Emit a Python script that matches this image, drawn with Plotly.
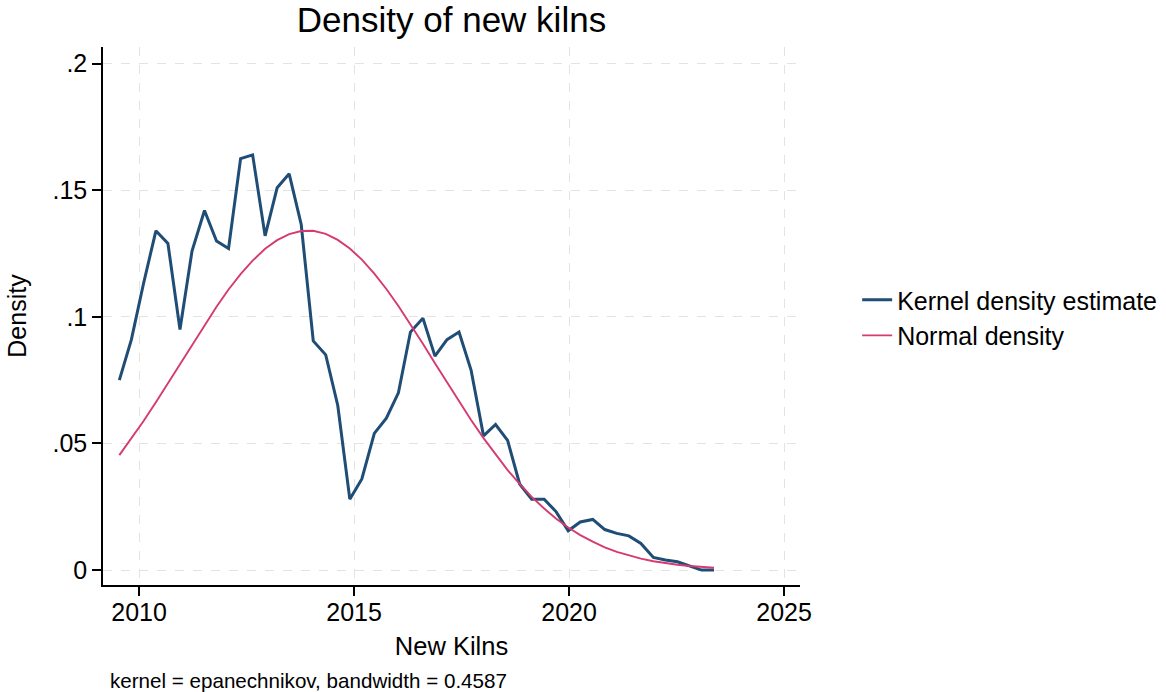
import plotly.graph_objects as go

# ---- data ----
grid_x = [2009.54, 2009.82, 2010.10, 2010.39, 2010.67, 2010.95, 2011.23, 2011.52, 2011.80, 2012.08,
          2012.36, 2012.64, 2012.93, 2013.21, 2013.49, 2013.77, 2014.05, 2014.34, 2014.62, 2014.90,
          2015.18, 2015.47, 2015.75, 2016.03, 2016.31, 2016.60, 2016.88, 2017.16, 2017.44, 2017.72,
          2018.01, 2018.29, 2018.57, 2018.85, 2019.13, 2019.42, 2019.70, 2019.98, 2020.26, 2020.55,
          2020.83, 2021.11, 2021.39, 2021.67, 2021.96, 2022.24, 2022.52, 2022.80, 2023.08, 2023.37]

kernel_density = [0.075, 0.091, 0.113, 0.134, 0.129, 0.095, 0.126, 0.142, 0.130, 0.127,
                  0.1625, 0.164, 0.132, 0.151, 0.1565, 0.1365, 0.0905, 0.085, 0.065, 0.028,
                  0.036, 0.054, 0.060, 0.070, 0.094, 0.0995, 0.0845, 0.091, 0.094, 0.079,
                  0.053, 0.0575, 0.0512, 0.034, 0.028, 0.028, 0.023, 0.0155, 0.019, 0.020,
                  0.016, 0.0145, 0.0135, 0.0105, 0.005, 0.004, 0.0033, 0.0015, 0.0, 0.0]

normal_density = [0.0454, 0.0519, 0.0588, 0.0663, 0.0738, 0.0815, 0.0891, 0.0968, 0.1040, 0.1108,
                  0.1169, 0.1222, 0.1269, 0.1303, 0.1327, 0.1339, 0.1340, 0.1328, 0.1304, 0.1270,
                  0.1226, 0.1171, 0.1110, 0.1043, 0.0971, 0.0894, 0.0817, 0.0741, 0.0666, 0.0593,
                  0.0521, 0.0456, 0.0395, 0.0340, 0.0289, 0.0243, 0.0203, 0.0168, 0.0138, 0.0112,
                  0.0090, 0.0072, 0.0057, 0.0045, 0.0035, 0.0027, 0.0021, 0.0016, 0.0012, 0.0009]

series_names = ["Kernel density estimate", "Normal density"]
x_tick_vals = [2010, 2015, 2020, 2025]
x_tick_text = ["2010", "2015", "2020", "2025"]
y_tick_vals = [0, 0.05, 0.1, 0.15, 0.2]
y_tick_text = ["0", ".05", ".1", ".15", ".2"]

title_text = "Density of new kilns"
x_title = "New Kilns"
y_title = "Density"
note_text = "kernel = epanechnikov, bandwidth = 0.4587"

FONT = "Liberation Sans, Arial, Helvetica, sans-serif"
BLUE = "#1f4d75"
PINK = "#d53a70"

fig = go.Figure()
fig.add_trace(go.Scatter(x=grid_x, y=kernel_density, mode="lines", name=series_names[0],
                         line=dict(color=BLUE, width=3)))
fig.add_trace(go.Scatter(x=grid_x, y=normal_density, mode="lines", name=series_names[1],
                         line=dict(color=PINK, width=1.9)))

W, H = 1166, 692
L, R, T, B = 103, 366, 47, 107

fig.update_layout(
    width=W, height=H,
    margin=dict(l=L, r=R, t=T, b=B, autoexpand=False),
    paper_bgcolor="white", plot_bgcolor="white",
    font=dict(family=FONT, size=25, color="black"),
    title=dict(text=title_text, x=0.5, xref="paper", xanchor="center",
               y=1 - 20 / H, yref="container", yanchor="middle",
               font=dict(size=35, color="black")),
    showlegend=True,
    legend=dict(x=1.082, xanchor="left", y=0.497, yanchor="middle",
                font=dict(size=25, color="black"), bgcolor="rgba(0,0,0,0)",
                tracegroupgap=0, itemwidth=30),
    xaxis=dict(range=[2009.16, 2025.37], tickvals=x_tick_vals, ticktext=x_tick_text,
               showline=True, linecolor="black", linewidth=1.5,
               ticks="outside", ticklen=9, tickwidth=1.5, tickcolor="black",
               ticklabelstandoff=-5,
               showgrid=True, gridcolor="#e3e3e3", gridwidth=1.2, griddash="dash",
               zeroline=False, automargin=False,
               tickfont=dict(size=25),
               title=dict(text=x_title, font=dict(size=25.5), standoff=12)),
    yaxis=dict(range=[-0.0059, 0.2066], tickvals=y_tick_vals, ticktext=y_tick_text,
               showline=True, linecolor="black", linewidth=1.5,
               ticks="outside", ticklen=9, tickwidth=1.5, tickcolor="black",
               showgrid=True, gridcolor="#e3e3e3", gridwidth=1.2, griddash="dash",
               zeroline=False, automargin=False,
               tickfont=dict(size=25),
               title=dict(text=y_title, font=dict(size=25), standoff=19)),
    annotations=[dict(text=note_text, xref="paper", yref="paper",
                      x=(108 - L) / (W - L - R), y=-(680 - (H - B)) / (H - T - B),
                      xanchor="left", yanchor="middle", showarrow=False,
                      font=dict(size=20.6, color="black"))],
)

fig.write_html("out.html",
               config={"displayModeBar": False},
               post_script="document.body.style.margin='0';document.body.style.overflow='hidden';")
